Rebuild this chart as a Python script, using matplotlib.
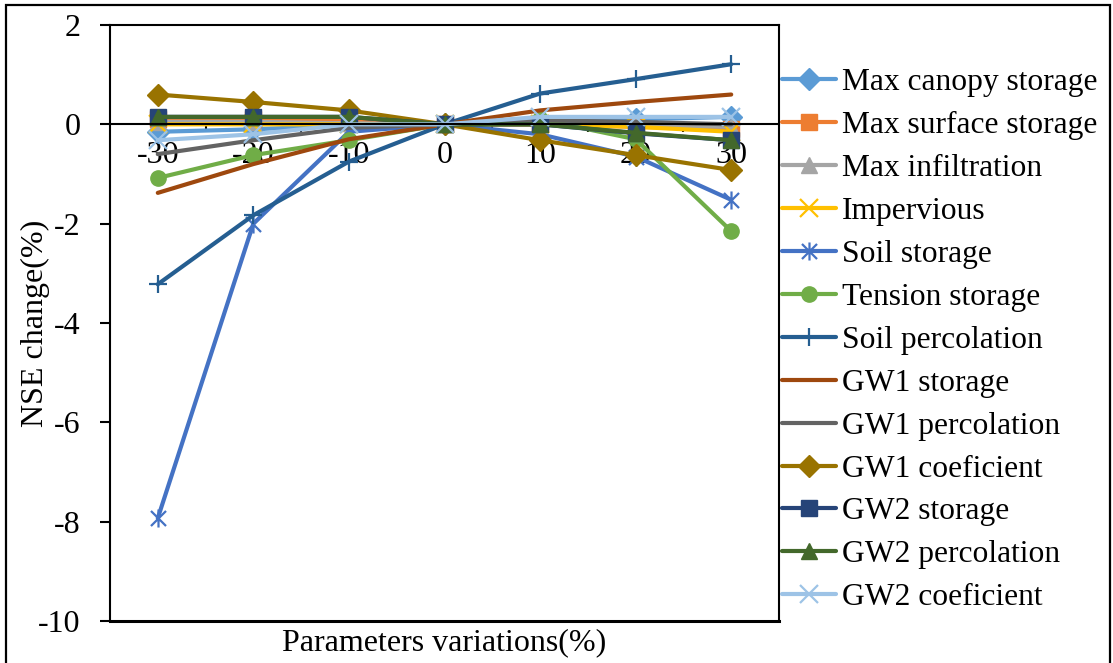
import numpy as np
import matplotlib.pyplot as plt
from matplotlib.patches import Rectangle
from matplotlib.path import Path

plt.rcParams['font.family'] = ['Liberation Serif', 'DejaVu Serif']
plt.rcParams['axes.unicode_minus'] = False

# parameter variation (%) categories
variations = ['-30', '-20', '-10', '0', '10', '20', '30']

# NSE change (%) per parameter
max_canopy = [-0.15, -0.1, -0.02, 0, 0.05, 0.1, 0.15]
max_surface = [0.1, 0.1, 0.1, 0, 0.0, -0.05, -0.1]
max_infiltration = [0.05, 0.05, 0.02, 0, 0.0, -0.03, -0.05]
impervious = [0.0, 0.0, 0.0, 0, 0.0, -0.05, -0.15]
soil_storage = [-7.93, -2.0, -0.15, 0, -0.2, -0.65, -1.52]
tension_storage = [-1.08, -0.62, -0.32, 0, 0.1, -0.3, -2.15]
soil_percolation = [-3.22, -1.83, -0.75, 0, 0.62, 0.91, 1.21]
gw1_storage = [-1.38, -0.8, -0.3, 0, 0.28, 0.45, 0.6]
gw1_percolation = [-0.6, -0.32, -0.07, 0, 0.08, 0.05, 0.0]
gw1_coef = [0.6, 0.45, 0.28, 0, -0.32, -0.62, -0.92]
gw2_storage = [0.15, 0.15, 0.15, 0, 0.0, -0.18, -0.32]
gw2_percolation = [0.15, 0.15, 0.15, 0, 0.0, -0.17, -0.32]
gw2_coef = [-0.32, -0.2, 0.0, 0, 0.15, 0.15, 0.15]

# excel style star: an x with a vertical bar
star = Path([(-1, -1), (1, 1), (-1, 1), (1, -1), (0, -1.2), (0, 1.2)],
            [Path.MOVETO, Path.LINETO] * 3)

series = [
    ('Max canopy storage', max_canopy, '#5B9BD5', 'D'),
    ('Max surface storage', max_surface, '#ED7D31', 's'),
    ('Max infiltration', max_infiltration, '#A5A5A5', '^'),
    ('Impervious', impervious, '#FFC000', 'x'),
    ('Soil storage', soil_storage, '#4472C4', star),
    ('Tension storage', tension_storage, '#70AD47', 'o'),
    ('Soil percolation', soil_percolation, '#255E91', '+'),
    ('GW1 storage', gw1_storage, '#9E480E', None),
    ('GW1 percolation', gw1_percolation, '#636363', None),
    ('GW1 coeficient', gw1_coef, '#997300', 'D'),
    ('GW2 storage', gw2_storage, '#264478', 's'),
    ('GW2 percolation', gw2_percolation, '#43682B', '^'),
    ('GW2 coeficient', gw2_coef, '#9DC3E6', 'x'),
]

fig = plt.figure(figsize=(11.13, 6.63), dpi=100)
ax = fig.add_axes([110/1113, 42/663, 669/1113, 596/663])

x = np.arange(len(variations))
for name, vals, col, mk in series:
    if mk is None:
        ax.plot(x, vals, color=col, lw=3, label=name, solid_capstyle='round')
    elif isinstance(mk, Path) or mk in ('x', '+'):
        ax.plot(x, vals, color=col, lw=3, marker=mk, ms=13, mew=1.6,
                label=name, solid_capstyle='round')
    else:
        ax.plot(x, vals, color=col, lw=3, marker=mk, ms=11,
                mec=col, label=name, solid_capstyle='round')

ax.set_xlim(-0.5, 6.5)
ax.set_ylim(-10, 2)
ax.set_yticks(np.arange(-10, 3, 2))

# category axis crosses at y=0
ax.spines['bottom'].set_position(('data', 0))
ax.axhline(-10, color='black', lw=2.2, clip_on=False)
for s in ax.spines.values():
    s.set_linewidth(1.5)
ax.set_xticks(x)
ax.set_xticklabels(variations)
ax.set_xticks(np.arange(0.5, 6, 1), minor=True)
ax.tick_params(axis='x', which='major', length=0, pad=12, labelsize=23)
ax.tick_params(axis='x', which='minor', length=6, width=1.5, direction='out')
ax.tick_params(axis='y', length=7, width=1.5, pad=14, labelsize=23)
for lab in ax.get_xticklabels():
    lab.set_zorder(0)

fig.text(35/1113, 1 - 323/663, 'NSE change(%)', fontsize=23, rotation=90,
         ha='center', va='center')
fig.text(444/1113, 1 - 643/663, 'Parameters variations(%)', fontsize=23,
         ha='center', va='center')

ax.legend(loc='upper left', bbox_to_anchor=(782/1113, 1 - 68/663),
          bbox_transform=fig.transFigure, frameon=False, fontsize=22.7,
          handlelength=1.72, handletextpad=0.18, labelspacing=0.44,
          borderpad=0, borderaxespad=0, numpoints=1)

fig.patches.append(Rectangle((5.5/1113, -0.05), 1104.5/1113, 1.05 - 5.5/663,
                             transform=fig.transFigure, fill=False,
                             edgecolor='black', lw=1.6))

fig.savefig('out.png', dpi=100)
